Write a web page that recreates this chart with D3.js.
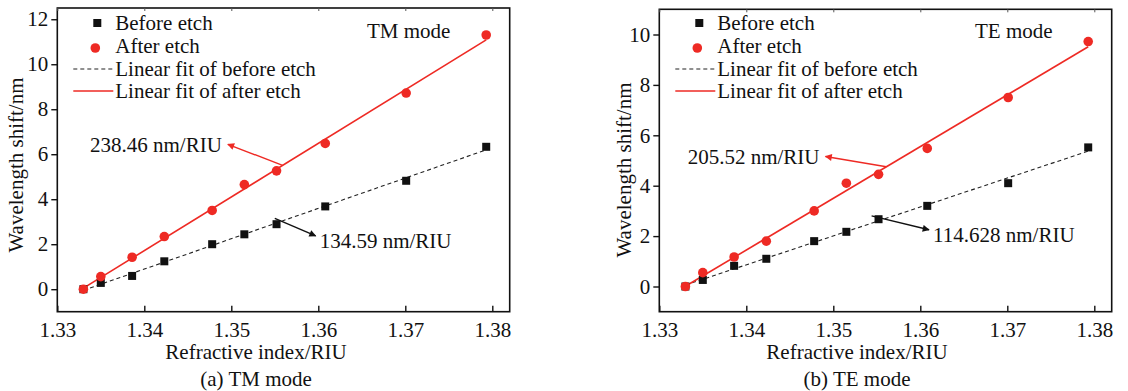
<!DOCTYPE html>
<html>
<head>
<meta charset="utf-8">
<script src="https://cdn.jsdelivr.net/npm/d3@7"></script>
<style>
  body { margin: 0; background: #fff; }
  text { font-family: "Liberation Serif", "Times New Roman", serif; fill: #111; }
</style>
</head>
<body>
<div class="myBox"></div>
<script>

var width = 1128;
var height = 391;
var fs = 21;

// refractive index of the test solutions (shared by all series)
var refractiveIndex = [1.3330, 1.3350, 1.3386, 1.3423, 1.3478, 1.3515, 1.3552, 1.3608, 1.3701, 1.3793];

// wavelength shift / nm
var tmBefore = [0, 0.28, 0.59, 1.24, 2.0, 2.44, 2.89, 3.68, 4.82, 6.33];
var tmAfter  = [0, 0.56, 1.42, 2.34, 3.5, 4.65, 5.26, 6.48, 8.72, 11.3];
var teBefore = [0, 0.26, 0.82, 1.10, 1.8, 2.17, 2.67, 3.20, 4.10, 5.52];
var teAfter  = [0, 0.55, 1.17, 1.80, 3.0, 4.10, 4.45, 5.48, 7.50, 9.72];

var xTicks = [1.33, 1.34, 1.35, 1.36, 1.37, 1.38];
var tmYTicks = [0, 2, 4, 6, 8, 10, 12];
var teYTicks = [0, 2, 4, 6, 8, 10];

var legendLabels = ["Before etch", "After etch", "Linear fit of before etch", "Linear fit of after etch"];

var red = "#ee2a24";

var svg = d3.select(".myBox")
  .append("svg")
  .attr("width", width)
  .attr("height", height);

var defs = svg.append("defs");
function marker(id, color) {
  defs.append("marker")
    .attr("id", id)
    .attr("viewBox", "0 0 10 10")
    .attr("refX", 9).attr("refY", 5)
    .attr("markerWidth", 9).attr("markerHeight", 7)
    .attr("markerUnits", "userSpaceOnUse")
    .attr("orient", "auto")
    .append("path")
    .attr("d", "M0,0 L10,5 L0,10 z")
    .attr("fill", color);
}
marker("headRed", red);
marker("headBlack", "#111");

function fit(xs, ys) {
  var mx = d3.mean(xs), my = d3.mean(ys);
  var num = 0, den = 0;
  xs.forEach(function(x, i) { num += (x - mx) * (ys[i] - my); den += (x - mx) * (x - mx); });
  var k = num / den;
  return function(x) { return my + k * (x - mx); };
}

function drawPanel(p) {
  var x = d3.scaleLinear().domain([1.33, 1.382]).range([p.left, p.right]);
  var y = d3.scaleLinear().domain(p.yDomain).range([311.7, p.top]);
  var g = svg.append("g");

  // frame
  g.append("rect")
    .attr("x", p.left).attr("y", p.top)
    .attr("width", p.right - p.left).attr("height", 311.7 - p.top)
    .attr("fill", "none").attr("stroke", "#111").attr("stroke-width", 1.6);

  // x axis, ticks pointing inward
  var xa = g.append("g").attr("transform", "translate(0,311.7)")
    .call(d3.axisBottom(x).tickValues(xTicks).tickSize(-6).tickPadding(10).tickFormat(d3.format(".2f")));
  xa.select(".domain").remove();
  xa.selectAll("line").attr("stroke", "#111").attr("stroke-width", 1.4);
  xa.selectAll("text").attr("font-size", fs).attr("fill", "#111");

  // small top ticks
  g.append("g").attr("transform", "translate(0," + p.top + ")")
    .call(d3.axisTop(x).tickValues(xTicks).tickSize(-3).tickFormat(""))
    .call(function(s) { s.select(".domain").remove(); s.selectAll("line").attr("stroke", "#555"); });

  // y axis, ticks outward
  var ya = g.append("g").attr("transform", "translate(" + p.left + ",0)")
    .call(d3.axisLeft(y).tickValues(p.yTicks).tickSize(6).tickPadding(3));
  ya.select(".domain").remove();
  ya.selectAll("line").attr("stroke", "#111").attr("stroke-width", 1.4);
  ya.selectAll("text").attr("font-size", fs).attr("fill", "#111");

  // fit lines
  var fb = fit(refractiveIndex, p.before), fa = fit(refractiveIndex, p.after);
  var xEnds = d3.extent(refractiveIndex);
  var line = d3.line().x(function(d) { return x(d[0]); }).y(function(d) { return y(d[1]); });
  g.append("path")
    .attr("d", line(xEnds.map(function(v) { return [v, fb(v)]; })))
    .attr("fill", "none").attr("stroke", "#222").attr("stroke-width", 1.1)
    .attr("stroke-dasharray", "4,3");
  g.append("path")
    .attr("d", line(xEnds.map(function(v) { return [v, fa(v)]; })))
    .attr("fill", "none").attr("stroke", red).attr("stroke-width", 1.6);

  // markers
  g.selectAll(".sq").data(p.before).enter().append("rect")
    .attr("x", function(d, i) { return x(refractiveIndex[i]) - 4; })
    .attr("y", function(d) { return y(d) - 4; })
    .attr("width", 8).attr("height", 8)
    .attr("fill", "#111");
  g.selectAll(".dot").data(p.after).enter().append("circle")
    .attr("cx", function(d, i) { return x(refractiveIndex[i]); })
    .attr("cy", function(d) { return y(d); })
    .attr("r", 4.8)
    .attr("fill", red);

  // sensitivity annotations
  var aR = p.redNote, aB = p.blackNote;
  g.append("line")
    .attr("x1", x(aR.from)).attr("y1", y(fa(aR.from)))
    .attr("x2", x(aR.to[0])).attr("y2", y(aR.to[1]))
    .attr("stroke", red).attr("stroke-width", 1.4).attr("marker-end", "url(#headRed)");
  g.append("text")
    .attr("x", x(aR.to[0]) - 6).attr("y", y(aR.to[1]))
    .attr("dy", "0.35em").attr("text-anchor", "end").attr("font-size", fs)
    .text(aR.label);
  g.append("line")
    .attr("x1", x(aB.from[0])).attr("y1", y(aB.from[1]))
    .attr("x2", x(aB.to[0])).attr("y2", y(aB.to[1]))
    .attr("stroke", "#111").attr("stroke-width", 1.4).attr("marker-end", "url(#headBlack)");
  g.append("text")
    .attr("x", x(aB.to[0]) + 4).attr("y", y(aB.to[1]) + 5)
    .attr("dy", "0.35em").attr("font-size", fs)
    .text(aB.label);

  // legend
  var lx = p.left + 16, ty = [23, 46, 69, 91];
  g.append("rect").attr("x", lx + 20).attr("y", ty[0] - 4).attr("width", 8).attr("height", 8).attr("fill", "#111");
  g.append("circle").attr("cx", lx + 22).attr("cy", ty[1] + 2).attr("r", 4.8).attr("fill", red);
  g.append("line").attr("x1", lx).attr("x2", lx + 40).attr("y1", ty[2]).attr("y2", ty[2])
    .attr("stroke", "#222").attr("stroke-width", 1.1).attr("stroke-dasharray", "4,3");
  g.append("line").attr("x1", lx).attr("x2", lx + 40).attr("y1", ty[3]).attr("y2", ty[3])
    .attr("stroke", red).attr("stroke-width", 1.6);
  g.selectAll(".leg").data(legendLabels).enter().append("text")
    .attr("x", lx + 42).attr("y", function(d, i) { return ty[i]; })
    .attr("dy", "0.33em").attr("font-size", fs)
    .text(function(d) { return d; });

  g.append("text").attr("x", p.modeX).attr("y", 31).attr("dy", "0.35em")
    .attr("font-size", fs).text(p.mode);

  // axis titles and caption
  g.append("text")
    .attr("transform", "translate(" + p.yTitleX + "," + p.yTitleY + ") rotate(-90)")
    .attr("text-anchor", "middle").attr("dy", "0.35em").attr("font-size", fs)
    .text("Wavelength shift/nm");
  g.append("text").attr("x", p.captionX).attr("y", 352).attr("dy", "0.35em")
    .attr("text-anchor", "middle").attr("font-size", fs).text("Refractive index/RIU");
  g.append("text").attr("x", p.captionX).attr("y", 379).attr("dy", "0.35em")
    .attr("text-anchor", "middle").attr("font-size", fs).text(p.caption);
}

drawPanel({
  left: 57.3, right: 509.7, top: 8, yDomain: [-1, 12.5], yTicks: tmYTicks,
  before: tmBefore, after: tmAfter,
  redNote: { from: 1.3559, to: [1.3496, 6.44], label: "238.46 nm/RIU" },
  blackNote: { from: [1.3550, 3.15], to: [1.3597, 2.37], label: "134.59 nm/RIU" },
  mode: "TM mode", modeX: 367,
  yTitleX: 16, yTitleY: 165, captionX: 256, caption: "(a) TM mode"
});

drawPanel({
  left: 659.3, right: 1111.7, top: 9.3, yDomain: [-1, 11], yTicks: teYTicks,
  before: teBefore, after: teAfter,
  redNote: { from: 1.3561, to: [1.3491, 5.16], label: "205.52 nm/RIU" },
  blackNote: { from: [1.3544, 2.8], to: [1.3610, 2.25], label: "114.628 nm/RIU" },
  mode: "TE mode", modeX: 975,
  yTitleX: 624, yTitleY: 170, captionX: 857, caption: "(b) TE mode"
});

</script>
</body>
</html>
